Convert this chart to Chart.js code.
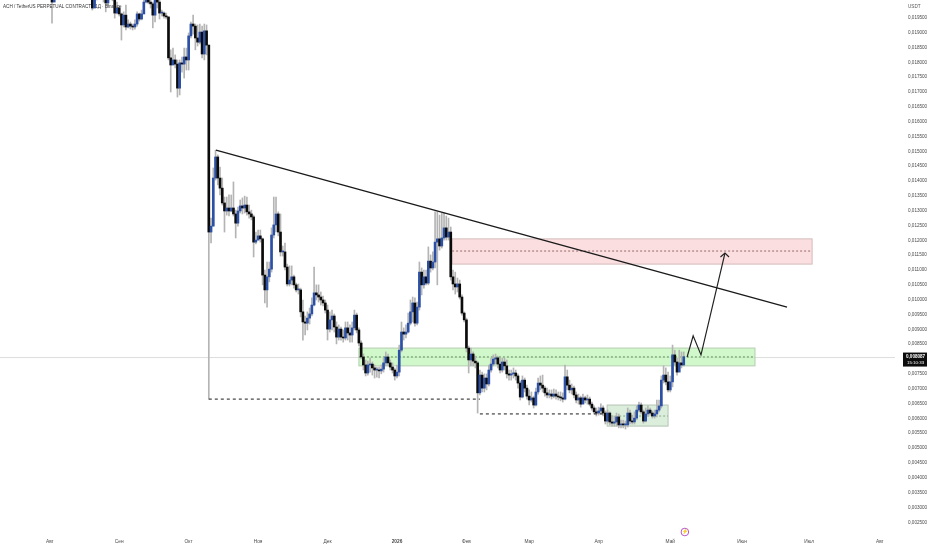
<!DOCTYPE html>
<html>
<head>
<meta charset="utf-8">
<title>ACH / TetherUS</title>
<script src="https://cdn.jsdelivr.net/npm/chart.js@4"></script>
<style>
    html, body { margin: 0; padding: 0; background: #fff; }
    canvas { display: block; }
</style>
</head>
<body>
<canvas id="priceChart" width="932" height="550"></canvas>
<script>
// candle values are in units of 0.00001 USDT, one entry per daily candle
var unit = 0.00001;

var closes = [
    2003,2050,2077,2094,2111,2104,2128,2118,2145,2128,
    2111,2104,2084,2094,2077,2071,2057,2027,1983,2017,
    2037,2044,2030,2020,2000,2023,2030,2017,1966,1983,
    1963,1926,1959,1919,1929,1922,1919,1929,1963,1946,
    1963,2003,2017,2003,1997,1959,2013,2003,1966,1966,
    1956,1953,1815,1791,1808,1794,1713,1798,1794,1818,
    1808,1889,1929,1922,1882,1868,1902,1828,1906,1858,
    1228,1248,1410,1481,1410,1376,1326,1299,1309,1299,
    1309,1289,1258,1299,1316,1309,1319,1296,1289,1279,
    1194,1201,1215,1205,1083,1033,1077,1103,1218,1252,
    1289,1228,1161,1161,1110,1053,1066,1077,1050,1033,
    1033,959,925,921,938,952,982,1023,1016,1009,
    999,989,965,901,932,945,908,874,901,874,
    871,905,888,881,905,948,898,854,807,780,
    753,780,783,770,763,763,760,766,787,807,
    787,773,763,743,756,830,891,884,891,921,
    959,989,921,975,1093,1050,1077,1056,1130,1107,
    1127,1194,1205,1181,1208,1242,1211,1228,1077,1053,
    1043,1053,1009,955,932,837,797,817,793,787,
    686,746,702,736,716,763,783,800,804,783,
    763,790,777,750,746,750,753,743,719,672,
    729,702,675,662,669,645,689,719,712,702,
    686,679,682,675,682,675,672,669,665,740,
    712,696,702,679,662,669,648,669,662,665,
    648,635,622,618,625,635,618,591,618,588,
    584,588,605,578,581,578,578,618,591,588,
    601,628,645,622,591,615,628,618,608,615,
    628,642,729,746,723,696,723,814,790,756,
    787,780,808
];
var highs = [
    2044,2077,2104,2118,2138,2131,2152,2145,2165,2158,
    2138,2125,2118,2111,2104,2098,2084,2064,2030,2037,
    2057,2064,2057,2044,2027,2037,2050,2040,2023,2003,
    1990,1966,1970,1993,1943,1936,1929,1943,1970,1966,
    1976,2020,2030,2030,2017,2003,2030,2023,2017,1976,
    1970,1966,1953,1842,1848,1825,1808,1808,1818,1848,
    1848,1899,1936,1959,1929,1926,1929,1922,1929,1926,
    1858,1275,1444,1504,1488,1447,1410,1346,1346,1353,
    1353,1397,1302,1312,1336,1343,1349,1346,1319,1302,
    1285,1228,1235,1235,1208,1100,1127,1127,1242,1346,
    1346,1296,1289,1181,1191,1120,1114,1114,1083,1056,
    1053,1039,999,945,959,972,1006,1110,1050,1050,
    1026,1012,999,982,959,965,952,925,915,908,
    898,925,925,915,925,965,955,905,861,817,
    797,793,803,790,780,773,773,780,803,824,
    817,797,787,770,780,847,925,905,915,955,
    999,1009,1006,992,1127,1107,1100,1100,1178,1151,
    1161,1296,1296,1285,1292,1292,1282,1275,1245,1100,
    1093,1073,1066,1016,959,938,844,837,824,810,
    793,763,756,750,750,780,803,814,817,810,
    803,803,803,797,763,763,770,763,750,726,
    743,736,712,696,689,675,702,736,743,746,
    709,702,696,696,699,696,689,689,686,780,
    763,729,716,709,689,682,675,682,675,679,
    672,655,642,635,638,649,642,625,628,622,
    608,608,618,615,594,594,591,635,628,611,
    622,642,655,652,628,635,642,635,625,628,
    662,662,743,777,770,756,743,847,830,803,
    830,824,824
];
var lows = [
    1932,2017,2044,2061,2077,2084,2091,2098,2104,2111,
    2098,2084,2071,2064,2057,2050,2030,2017,1976,1990,
    2010,2023,2017,2003,1970,1990,2013,2007,1949,1963,
    1956,1875,1919,1909,1916,1912,1909,1912,1922,1939,
    1943,1963,2000,1997,1983,1916,1936,1983,1946,1956,
    1949,1946,1808,1700,1791,1781,1683,1690,1767,1747,
    1774,1774,1882,1895,1842,1855,1862,1815,1808,1825,
    665,1191,1248,1403,1387,1353,1319,1228,1285,1282,
    1296,1282,1208,1248,1292,1289,1292,1285,1275,1269,
    1144,1188,1201,1194,1050,989,975,1060,1093,1208,
    1228,1215,1147,1147,1100,1046,1046,1050,1039,1026,
    1019,942,864,881,898,918,945,979,999,992,
    982,979,955,864,891,898,891,851,864,864,
    857,864,864,857,857,898,888,844,800,763,
    743,746,756,746,736,739,736,750,756,777,
    777,763,753,729,736,743,824,864,871,888,
    915,925,911,915,965,1016,1039,1050,1050,1093,
    1100,1107,1050,1167,1174,1201,1201,1201,1066,1033,
    1019,1026,1002,948,925,824,753,777,777,770,
    618,679,689,689,696,709,756,777,783,770,
    753,756,763,736,729,729,736,729,702,662,
    669,689,665,645,655,635,642,682,696,689,
    675,669,669,665,669,665,662,659,655,662,
    696,686,682,669,652,648,638,652,652,648,
    642,628,615,608,611,615,608,581,584,578,
    574,574,574,568,568,568,564,571,581,581,
    581,595,622,615,584,588,608,611,601,601,
    605,622,635,719,713,689,689,706,780,746,
    770,770,777
];

// axis ticks
var monthNames = ['Авг','Сен','Окт','Ноя','Дек','2026','Фев','Мар','Апр','Май','Июн','Июл','Авг'];
var monthCandles = [-1,30,61,92,123,154,185,213,244,276,308,338,369.5];
var priceTicks = [
    0.0195,0.019,0.0185,0.018,0.0175,0.017,0.0165,0.016,0.0155,0.015,0.0145,0.014,0.0135,0.013,
    0.0125,0.012,0.0115,0.011,0.0105,0.01,0.0095,0.009,0.0085,0.008,0.0075,0.007,0.0065,0.006,
    0.0055,0.005,0.0045,0.004,0.0035,0.003,0.0025
];

// drawings: [candle, price] pairs
var trendLine = [[73.2,1504],[328.1,975]];
var lowLineOne = [[70,665],[191,665]];
var lowLineTwo = [[191,615],[247.3,615]];
var pathLine = [[283.5,807],[286.2,878],[289.7,814],[300.4,1157]];
var arrowHead = [[298.4,1144],[300.4,1157],[302.2,1144]];
// zones: [start candle, end candle, top, middle, bottom]
var resistanceZone = [178.6,339.3,1205,1164,1120];
var supportZone = [137,313.8,837,807,777];
var baseZone = [247.8,275,645,608,574];

var lastPriceLabel = '0,008087';
var countdownLabel = '15:10:33';
var priceLineValue = 805;
var titleText = 'ACH / TetherUS PERPETUAL CONTRACT · 1Д · Binance';

var fontName = '"Liberation Sans", Arial, sans-serif';

function toPoints(list) {
    return list.map(function (p) {
        return { x: p[0], y: p[1] * unit };
    });
}

function lineSet(list, color, width, dash) {
    return {
        type: 'line',
        data: toPoints(list),
        borderColor: color,
        borderWidth: width,
        borderDash: dash || [],
        pointRadius: 0,
        tension: 0,
        fill: false,
        order: 1
    };
}

var wickData = [];
var bodyData = [];
var bodyColors = [];
for (var i = 0; i < closes.length; i++) {
    var open = i === 0 ? 2030 : closes[i - 1];
    wickData.push({ x: i, y: [lows[i] * unit, highs[i] * unit] });
    bodyData.push({ x: i, y: [open * unit, closes[i] * unit] });
    bodyColors.push(closes[i] >= open ? '#2b50a6' : '#0b0b0b');
}

var zonePlugin = {
    id: 'zones',
    beforeDatasetsDraw: function (chart) {
        var ctx = chart.ctx;
        var xs = chart.scales.x;
        var ys = chart.scales.y;

        function zone(z, fill, border, dashColor) {
            var x0 = xs.getPixelForValue(z[0]);
            var x1 = xs.getPixelForValue(z[1]);
            var top = ys.getPixelForValue(z[2] * unit);
            var mid = ys.getPixelForValue(z[3] * unit);
            var bottom = ys.getPixelForValue(z[4] * unit);
            ctx.save();
            ctx.fillStyle = fill;
            ctx.fillRect(x0, top, x1 - x0, bottom - top);
            ctx.strokeStyle = border;
            ctx.lineWidth = 1;
            ctx.strokeRect(x0, top, x1 - x0, bottom - top);
            ctx.strokeStyle = dashColor;
            ctx.setLineDash([2, 2]);
            ctx.beginPath();
            ctx.moveTo(x0, mid);
            ctx.lineTo(x1, mid);
            ctx.stroke();
            ctx.restore();
        }

        // price line sits under everything
        var py = ys.getPixelForValue(priceLineValue * unit);
        ctx.save();
        ctx.strokeStyle = '#dddddd';
        ctx.lineWidth = 1;
        ctx.beginPath();
        ctx.moveTo(chart.chartArea.left, py);
        ctx.lineTo(chart.chartArea.right, py);
        ctx.stroke();
        ctx.restore();

        zone(resistanceZone, 'rgba(248,205,208,0.65)', '#d3bcbc', '#9a6a6a');
        zone(supportZone, 'rgba(190,245,180,0.7)', '#b4cdb0', '#5f8a5f');
        zone(baseZone, 'rgba(190,222,190,0.55)', '#b4c4b4', '#8aa88a');
    },
    afterDraw: function (chart) {
        var ctx = chart.ctx;
        var ys = chart.scales.y;
        var xs = chart.scales.x;
        ctx.save();
        // symbol title and currency
        ctx.fillStyle = '#333333';
        ctx.font = '4.6px ' + fontName;
        ctx.textBaseline = 'middle';
        ctx.textAlign = 'left';
        ctx.fillText(titleText, 3, 7);
        ctx.fillStyle = '#555555';
        ctx.fillText('USDT', 908, 7);

        // last price tag
        var py = ys.getPixelForValue(priceLineValue * unit);
        ctx.fillStyle = '#0c0c0c';
        ctx.fillRect(903, py - 5, 24, 14);
        ctx.fillStyle = '#ffffff';
        ctx.font = 'bold 4.6px ' + fontName;
        ctx.fillText(lastPriceLabel, 906, py - 1);
        ctx.font = '4.4px ' + fontName;
        ctx.fillText(countdownLabel, 907, py + 5);

        // earnings style marker under the last candle
        var mx = xs.getPixelForValue(282.5);
        ctx.strokeStyle = '#b455c8';
        ctx.lineWidth = 1;
        ctx.beginPath();
        ctx.arc(mx, 532, 3.8, 0, Math.PI * 2);
        ctx.stroke();
        ctx.fillStyle = '#b455c8';
        ctx.font = '5px ' + fontName;
        ctx.textAlign = 'center';
        ctx.fillText('⚡', mx, 532);
        ctx.restore();
    }
};

function noMargins(scale) {
    scale.paddingLeft = 0;
    scale.paddingRight = 0;
    scale.paddingTop = 0;
    scale.paddingBottom = 0;
}

var ctx = document.getElementById('priceChart').getContext('2d');
var priceChart = new Chart(ctx, {
    data: {
        datasets: [
            {
                type: 'bar',
                data: wickData,
                backgroundColor: '#b4b4b4',
                barThickness: 1,
                grouped: false,
                order: 3
            },
            {
                type: 'bar',
                data: bodyData,
                backgroundColor: bodyColors,
                barThickness: 2,
                minBarLength: 1,
                grouped: false,
                order: 2
            },
            lineSet(trendLine, '#1a1a1a', 1.4),
            lineSet(lowLineOne, '#1a1a1a', 1, [3, 3]),
            lineSet(lowLineTwo, '#1a1a1a', 1, [3, 3]),
            lineSet(pathLine, '#222222', 1.2),
            lineSet(arrowHead, '#222222', 1.2)
        ]
    },
    plugins: [zonePlugin],
    options: {
        responsive: false,
        animation: false,
        layout: { padding: 0 },
        plugins: {
            legend: { display: false },
            tooltip: { enabled: false },
            title: { display: false }
        },
        scales: {
            x: {
                type: 'linear',
                offset: false,
                min: -23.21,
                max: 376.3,
                grid: { display: false, drawTicks: false, offset: false },
                border: { display: false },
                afterBuildTicks: function (scale) {
                    scale.ticks = monthCandles.map(function (v) {
                        return { value: v };
                    });
                },
                afterFit: function (scale) {
                    scale.height = 15;
                    noMargins(scale);
                },
                ticks: {
                    autoSkip: false,
                    maxRotation: 0,
                    padding: 4,
                    color: '#4a4a4a',
                    font: function (c) {
                        var isYear = c.tick && monthNames[monthCandles.indexOf(c.tick.value)] === '2026';
                        return { family: fontName, size: 4.8, weight: isYear ? 'bold' : 'normal' };
                    },
                    callback: function (value) {
                        return monthNames[monthCandles.indexOf(value)];
                    }
                }
            },
            y: {
                type: 'linear',
                position: 'right',
                min: 0.00207,
                max: 0.0201,
                grid: { display: false, drawTicks: false },
                border: { display: false },
                afterBuildTicks: function (scale) {
                    scale.ticks = priceTicks.map(function (v) {
                        return { value: v };
                    });
                },
                afterFit: function (scale) {
                    scale.width = 37;
                    noMargins(scale);
                },
                ticks: {
                    autoSkip: false,
                    padding: 13,
                    color: '#4a4a4a',
                    font: { family: fontName, size: 4.6 },
                    callback: function (value) {
                        return value.toFixed(6).replace('.', ',');
                    }
                }
            }
        }
    }
});
</script>
</body>
</html>
